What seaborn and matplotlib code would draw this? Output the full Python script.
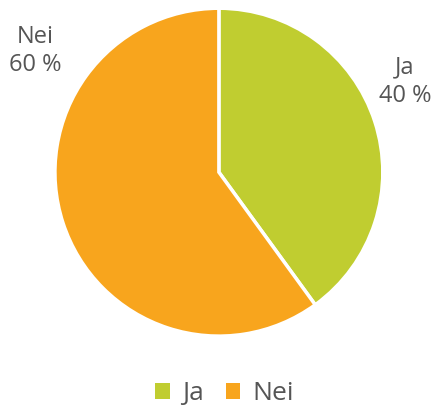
import matplotlib
matplotlib.use("Agg")
import matplotlib.pyplot as plt
from matplotlib.patches import Patch
import seaborn as sns

# data
categories = ["Ja", "Nei"]
shares = [40, 60]
colors = ["#C0CD30", "#F8A51D"]

sns.set_theme(style="white")
plt.rcParams["font.family"] = ["Open Sans", "DejaVu Sans"]
text_color = "#555555"

fig = plt.figure(figsize=(4.36, 4.08), dpi=100)
ax = fig.add_axes([0.126, 0.176, 0.752, 0.804])

wedges, _ = ax.pie(shares, colors=colors, startangle=90, counterclock=False,
                   radius=1, wedgeprops=dict(edgecolor="white", linewidth=2.5))
ax.set_xlim(-1, 1)
ax.set_ylim(-1, 1)
ax.set_aspect("equal")

# data labels
label_pos = {"Ja": (1.135, 0.55), "Nei": (-1.12, 0.74)}
for cat, val in zip(categories, shares):
    x, y = label_pos[cat]
    ax.text(x, y, f"{cat}\n{val} %", ha="center", va="center",
            fontsize=17, color=text_color, linespacing=1.25, clip_on=False)

handles = [Patch(facecolor=c, edgecolor="none", label=l) for c, l in zip(colors, categories)]
fig.legend(handles=handles, loc="center", bbox_to_anchor=(0.515, 0.035), ncol=2,
           frameon=False, fontsize=19, labelcolor=text_color,
           handlelength=0.55, handleheight=0.55, handletextpad=0.45, columnspacing=0.85)

fig.savefig("out.png", dpi=100)
